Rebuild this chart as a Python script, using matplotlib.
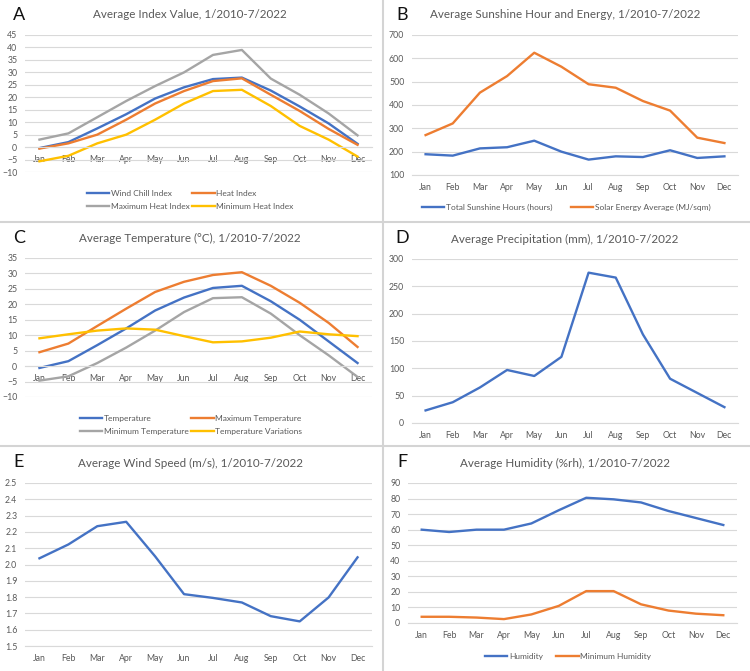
import numpy as np
import matplotlib
matplotlib.use("Agg")
import matplotlib.pyplot as plt
from matplotlib.lines import Line2D

plt.rcParams['font.family'] = ['Lato', 'DejaVu Sans']

months = ['Jan', 'Feb', 'Mar', 'Apr', 'May', 'Jun', 'Jul', 'Aug', 'Sep', 'Oct', 'Nov', 'Dec']

# A - index values
wind_chill = [-0.4, 2.0, 7.5, 13.2, 19.5, 24.0, 27.3, 27.9, 22.7, 16.3, 9.5, 1.3]
heat_index = [-0.6, 1.5, 5.0, 11.0, 17.5, 22.5, 26.5, 27.6, 21.0, 14.5, 7.3, 0.9]
max_heat = [3.0, 5.5, 12.0, 18.5, 24.5, 30.0, 37.0, 39.0, 27.5, 21.0, 13.5, 4.7]
min_heat = [-5.7, -3.5, 1.5, 5.0, 11.0, 17.5, 22.5, 23.0, 16.5, 8.5, 3.0, -3.8]

# B - sunshine and energy
sunshine = [189, 183, 214, 219, 247, 200, 166, 180, 177, 206, 173, 180]
solar = [271, 321, 453, 524, 624, 564, 489, 474, 417, 376, 260, 237]

# C - temperature
temp = [-0.6, 1.6, 6.8, 12.2, 18.0, 22.2, 25.3, 26.0, 21.0, 15.0, 8.0, 1.0]
max_temp = [4.5, 7.3, 13.0, 18.6, 24.0, 27.3, 29.5, 30.4, 26.0, 20.5, 14.0, 6.2]
min_temp = [-4.7, -3.3, 1.0, 6.0, 11.5, 17.5, 22.0, 22.3, 17.0, 10.0, 3.5, -3.5]
temp_var = [9.0, 10.3, 11.5, 12.2, 11.8, 9.7, 7.7, 8.0, 9.2, 11.2, 10.3, 9.7]

# D - precipitation
precip = [23, 38, 65, 97, 86, 121, 275, 266, 162, 81, 55, 29]

# E - wind speed
wind = [2.038, 2.123, 2.235, 2.262, 2.05, 1.818, 1.795, 1.767, 1.683, 1.651, 1.798, 2.044]

# F - humidity
humidity = [60, 58.5, 60, 60, 64, 72.5, 80.5, 79.5, 77.5, 72, 67.5, 63]
min_humidity = [4, 4, 3.5, 2.5, 5.5, 11, 20.5, 20.5, 12, 8, 6, 5]

BLUE = '#4472C4'
ORANGE = '#ED7D31'
GREY = '#A5A5A5'
YELLOW = '#FFC000'
TXT = '#595959'
GRID = '#D9D9D9'

W, H = 750, 671
fig = plt.figure(figsize=(W / 100, H / 100), dpi=100)


def px_axes(left, right, top, bottom):
    return fig.add_axes([left / W, 1 - bottom / H, (right - left) / W, (bottom - top) / H])


def style(ax, ylim, step, zero_axis=False, fmt=None):
    ax.set_xlim(-0.5, 11.5)
    ax.set_ylim(*ylim)
    ticks = np.arange(ylim[0], ylim[1] + step / 2, step)
    ax.set_yticks(ticks)
    if fmt:
        ax.set_yticklabels([fmt % t for t in ticks])
    ax.set_xticks(range(12))
    ax.set_xticklabels(months)
    ax.grid(axis='y', color=GRID, lw=0.8)
    ax.set_axisbelow(True)
    for s in ['top', 'right', 'left']:
        ax.spines[s].set_visible(False)
    ax.spines['bottom'].set_color(GRID)
    ax.spines['bottom'].set_linewidth(0.8)
    if zero_axis:
        ax.spines['bottom'].set_position(('data', 0))
    ax.tick_params(length=0, labelsize=6.3, labelcolor=TXT)
    ax.tick_params(axis='x', pad=5.5)
    ax.tick_params(axis='y', pad=5.5)


def title(x, y, text):
    fig.text(x / W, 1 - y / H, text, ha='center', va='center', fontsize=8.4, color=TXT)


def letter(x, y, s):
    fig.text(x / W, 1 - y / H, s, ha='center', va='center', fontsize=13, color='#111111')


def legend(handles, labels, x, y, ncol, colsp):
    fig.legend(handles, labels, loc='center', bbox_to_anchor=(x / W, 1 - y / H), ncol=ncol,
               frameon=False, fontsize=6.0, labelcolor=TXT, handlelength=2.7,
               handletextpad=0.2, columnspacing=colsp, labelspacing=0.75)


lw = 1.7
x = np.arange(12)

# A
ax = px_axes(25, 372, 35, 172)
la, = ax.plot(x, wind_chill, color=BLUE, lw=lw)
lb, = ax.plot(x, heat_index, color=ORANGE, lw=lw)
lc, = ax.plot(x, max_heat, color=GREY, lw=lw)
ld, = ax.plot(x, min_heat, color=YELLOW, lw=lw)
style(ax, (-10, 45), 5, zero_axis=True)
title(190, 15, 'Average Index Value, 1/2010-7/2022')
letter(19, 15, 'A')
legend([la, lc, lb, ld], ['Wind Chill Index', 'Maximum Heat Index', 'Heat Index', 'Minimum Heat Index'],
       190, 200, 2, 0.3)

# B
ax = px_axes(412, 738, 35, 175)
la, = ax.plot(x, sunshine, color=BLUE, lw=lw)
lb, = ax.plot(x, solar, color=ORANGE, lw=lw)
style(ax, (100, 700), 100)
title(565, 15, 'Average Sunshine Hour and Energy, 1/2010-7/2022')
letter(402, 15, 'B')
legend([la, lb], ['Total Sunshine Hours (hours)', 'Solar Energy Average (MJ/sqm)'], 566, 207, 2, 2.2)

# C
ax = px_axes(25, 372, 258, 397)
la, = ax.plot(x, temp, color=BLUE, lw=lw)
lb, = ax.plot(x, max_temp, color=ORANGE, lw=lw)
lc, = ax.plot(x, min_temp, color=GREY, lw=lw)
ld, = ax.plot(x, temp_var, color=YELLOW, lw=lw)
style(ax, (-10, 35), 5, zero_axis=True)
title(190, 238, 'Average Temperature (°C), 1/2010-7/2022')
letter(19, 238, 'C')
legend([la, lc, lb, ld], ['Temperature', 'Minimum Temperature', 'Maximum Temperature', 'Temperature Variations'],
       191, 425, 2, 0.3)

# D
ax = px_axes(412, 738, 259, 423)
ax.plot(x, precip, color=BLUE, lw=lw)
style(ax, (0, 300), 50)
title(565, 239, 'Average Precipitation (mm), 1/2010-7/2022')
letter(402, 238, 'D')

# E
ax = px_axes(25, 372, 483, 646)
ax.plot(x, wind, color=BLUE, lw=lw)
style(ax, (1.5, 2.5), 0.1, fmt='%.1f')
title(190, 463, 'Average Wind Speed (m/s), 1/2010-7/2022')
letter(19, 462, 'E')

# F
ax = px_axes(408, 737, 483, 623)
la, = ax.plot(x, humidity, color=BLUE, lw=lw)
lb, = ax.plot(x, min_humidity, color=ORANGE, lw=lw)
style(ax, (0, 90), 10)
title(565, 463, 'Average Humidity (%rh), 1/2010-7/2022')
letter(402, 462, 'F')
legend([la, lb], ['Humidity', 'Minimum Humidity'], 568, 656, 2, 1.6)

# panel separators
sep = '#D4D4D4'
fig.add_artist(Line2D([0, 1], [1 - 222 / H, 1 - 222 / H], color=sep, lw=1.5))
fig.add_artist(Line2D([0, 1], [1 - 446 / H, 1 - 446 / H], color=sep, lw=1.5))
fig.add_artist(Line2D([383 / W, 383 / W], [0, 1], color=sep, lw=1.5))

fig.savefig('out.png', dpi=100)
